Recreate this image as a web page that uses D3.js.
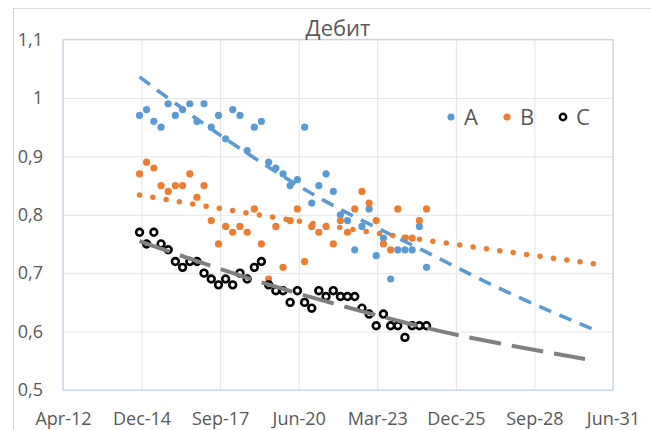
<!DOCTYPE html>
<html><head><meta charset="utf-8">
<script src="https://cdn.jsdelivr.net/npm/d3@7"></script>
<style>
body{margin:0;background:#fff}
svg{display:block}
text{font-family:"Open Sans",sans-serif;fill:#595959}
</style>
</head><body><svg id="c" width="651" height="430"></svg>
<script>
const title = "Дебит";
const dates = ["2014-12-01",
 "2015-03-01","2015-06-01","2015-09-01","2015-12-01",
 "2016-03-01","2016-06-01","2016-09-01","2016-12-01",
 "2017-03-01","2017-06-01","2017-09-01","2017-12-01",
 "2018-03-01","2018-06-01","2018-09-01","2018-12-01",
 "2019-03-01","2019-06-01","2019-09-01","2019-12-01",
 "2020-03-01","2020-06-01","2020-09-01","2020-12-01",
 "2021-03-01","2021-06-01","2021-09-01","2021-12-01",
 "2022-03-01","2022-06-01","2022-09-01","2022-12-01",
 "2023-03-01","2023-06-01","2023-09-01","2023-12-01",
 "2024-03-01","2024-06-01","2024-09-01","2024-12-01"];
const seriesA = [0.97,0.98,0.96,0.95,0.99,0.97,0.98,0.99,0.96,0.99,0.95,0.97,0.93,0.98,0.97,0.91,0.95,0.96,0.89,0.88,0.87,0.85,0.86,0.95,0.82,0.85,0.87,0.84,0.80,0.79,0.74,0.78,0.81,0.73,0.76,0.69,0.74,0.74,0.74,0.78,0.71];
const seriesB = [0.87,0.89,0.88,0.85,0.84,0.85,0.85,0.87,0.83,0.85,0.79,0.75,0.78,0.77,0.78,0.77,0.81,0.75,0.69,0.78,0.71,0.79,0.81,0.72,0.78,0.77,0.78,0.75,0.79,0.77,0.81,0.84,0.82,0.79,0.75,0.74,0.81,0.76,0.76,0.79,0.81];
const seriesC = [0.77,0.75,0.77,0.75,0.74,0.72,0.71,0.72,0.72,0.70,0.69,0.68,0.69,0.68,0.70,0.69,0.71,0.72,0.68,0.67,0.67,0.65,0.67,0.65,0.64,0.67,0.66,0.67,0.66,0.66,0.66,0.64,0.63,0.61,0.63,0.61,0.61,0.59,0.61,0.61,0.61];
const trendA = [["2014-12-01",1.036],["2017-04-08",0.950],["2020-02-03",0.859],["2022-01-03",0.805],["2024-10-17",0.740],["2027-06-24",0.671],["2030-09-19",0.604]];
const trendB = [["2014-12-01",0.834],["2020-07-04",0.7875],["2025-07-24",0.7515],["2030-10-27",0.7156]];
const trendC = [["2014-12-01",0.755],["2017-04-08",0.714],["2020-02-28",0.668],["2023-07-18",0.623],["2026-01-05",0.592],["2030-06-10",0.553]];
const xTickDates = ["2012-04-01","2014-12-27","2017-09-22","2020-06-18","2023-03-15","2025-12-09","2028-09-04","2031-06-01"];
const xTickLabels = ["Apr-12","Dec-14","Sep-17","Jun-20","Mar-23","Dec-25","Sep-28","Jun-31"];
const yTicks = [0.5,0.6,0.7,0.8,0.9,1.0,1.1];
const yTickLabels = ["0,5","0,6","0,7","0,8","0,9","1","1,1"];
const legendNames = ["A","B","C"];

const parse = d3.utcParse("%Y-%m-%d");
const L = 63, R = 613, T = 39.5, B = 390;
const x = d3.scaleUtc().domain([parse(xTickDates[0]), parse(xTickDates[xTickDates.length-1])]).range([L, R]);
const y = d3.scaleLinear().domain([0.5, 1.1]).range([B, T]);
const svg = d3.select("#c");

// chart frame
svg.append("rect").attr("x",13.5).attr("y",8.5).attr("width",700).attr("height",500)
  .attr("fill","#fff").attr("stroke","#d9d9d9");

// gridlines
const gx = svg.append("g").attr("transform",`translate(0,${B})`)
  .call(d3.axisBottom(x).tickValues(xTickDates.map(parse)).tickSize(-(B-T)).tickFormat(""));
gx.select(".domain").remove();
gx.selectAll("line").attr("stroke","#e4e4e4");
const gy = svg.append("g").attr("transform",`translate(${L},0)`)
  .call(d3.axisLeft(y).tickValues(yTicks).tickSize(-(R-L)).tickFormat(""));
gy.select(".domain").remove();
gy.selectAll("line").attr("stroke","#e4e4e4");

// plot border
svg.append("rect").attr("x",L).attr("y",T).attr("width",R-L).attr("height",B-T)
  .attr("fill","none").attr("stroke","#c3d5ec").attr("stroke-width",1.2);

// tick labels
const ax = svg.append("g").attr("transform",`translate(0,${B})`)
  .call(d3.axisBottom(x).tickValues(xTickDates.map(parse)).tickSize(0).tickPadding(22)
  .tickFormat((d,i)=>xTickLabels[i]));
ax.select(".domain").remove();
ax.selectAll("text").attr("font-size",18).attr("fill","#595959").attr("font-family","Open Sans");
const ay = svg.append("g").attr("transform",`translate(${L},0)`)
  .call(d3.axisLeft(y).tickValues(yTicks).tickSize(0).tickPadding(20)
  .tickFormat((d,i)=>yTickLabels[i]));
ay.select(".domain").remove();
ay.selectAll("text").attr("font-size",18).attr("fill","#595959").attr("font-family","Open Sans");

// title
svg.append("text").attr("x",338).attr("y",36).attr("text-anchor","middle")
  .attr("font-size",22).text(title);

const pts = arr => dates.map((d,i)=>({d:parse(d), v:arr[i]})).filter(p=>p.v!=null);

svg.append("g").selectAll("circle").data(pts(seriesA)).join("circle")
  .attr("cx",p=>x(p.d)).attr("cy",p=>y(p.v)).attr("r",3.6).attr("fill","#5B9BD5");
svg.append("g").selectAll("circle").data(pts(seriesB)).join("circle")
  .attr("cx",p=>x(p.d)).attr("cy",p=>y(p.v)).attr("r",3.6).attr("fill","#ED7D31");
svg.append("g").selectAll("circle").data(pts(seriesC)).join("circle")
  .attr("cx",p=>x(p.d)).attr("cy",p=>y(p.v)).attr("r",3.4).attr("fill","#fff")
  .attr("stroke","#000").attr("stroke-width",2.6);

const line = d3.line().x(p=>x(parse(p[0]))).y(p=>y(p[1])).curve(d3.curveBasis);
svg.append("path").attr("d",line(trendA)).attr("fill","none").attr("stroke","#5B9BD5")
  .attr("stroke-width",3.6).attr("stroke-dasharray","13 9");
svg.append("path").attr("d",line(trendB)).attr("fill","none").attr("stroke","#ED7D31")
  .attr("stroke-width",5.5).attr("stroke-linecap","round").attr("stroke-dasharray","0 13.5");
svg.append("path").attr("d",line(trendC)).attr("fill","none").attr("stroke","#808080")
  .attr("stroke-width",4).attr("stroke-dasharray","32 11");

// legend
const lg = svg.append("g");
const lx = [451, 507, 563];
lg.append("circle").attr("cx",lx[0]).attr("cy",117).attr("r",3.6).attr("fill","#5B9BD5");
lg.append("circle").attr("cx",lx[1]).attr("cy",117).attr("r",3.6).attr("fill","#ED7D31");
lg.append("circle").attr("cx",lx[2]).attr("cy",117).attr("r",3.2).attr("fill","#fff").attr("stroke","#000").attr("stroke-width",2.4);
legendNames.forEach((n,i)=>{
  lg.append("text").attr("x",lx[i]+13).attr("y",124.5).attr("font-size",22).text(n);
});
</script>
</body></html>
